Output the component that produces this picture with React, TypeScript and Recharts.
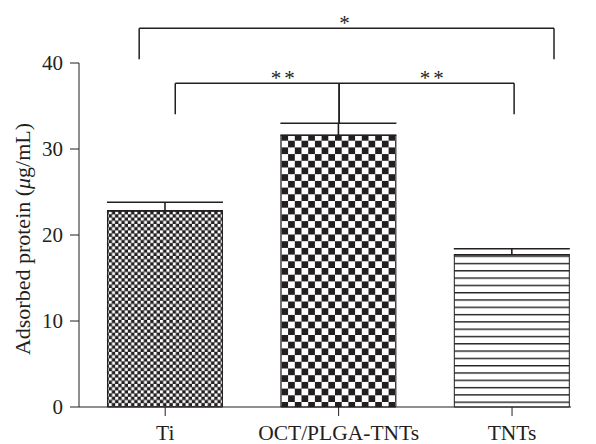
import { Bar, BarChart, Cell, ErrorBar, ReferenceDot, ReferenceLine, XAxis, YAxis } from "recharts"

const groups = ["Ti", "OCT/PLGA-TNTs", "TNTs"]
const means = [22.8, 31.6, 17.7]
const sems = [1.0, 1.4, 0.7]
const fills = ["url(#fineCheck)", "url(#bigCheck)", "url(#hStripes)"]
const yTicks = [0, 10, 20, 30, 40]

// significance brackets, in data units (x = group index)
const brackets = [
  { x1: -0.15, x2: 2.242, top: 44.05, left: 40.45, right: 40.45 },
  { x1: 0.058, x2: 1.003, top: 37.65, left: 34.05, right: 33.0 },
  { x1: 1.003, x2: 2.012, top: 37.65, left: 33.0, right: 34.05 },
]
const stars = [
  { x: 1.043, y: 44.6, text: "*" },
  { x: 0.686, y: 38.2, text: "**" },
  { x: 1.545, y: 38.2, text: "**" },
]

const data = groups.map((name, i) => ({ idx: i, name, mean: means[i], err: [0, sems[i]] }))

const ink = "#231f20"
const font = "'Liberation Serif', 'Times New Roman', serif"

function AxisTitle({ viewBox }: any) {
  const cy = viewBox.y + viewBox.height / 2 + 4
  return (
    <text
      x={22}
      y={cy}
      transform={`rotate(-90 22 ${cy})`}
      textAnchor="middle"
      dominantBaseline="central"
      fill={ink}
      fontSize={22}
      fontFamily={font}
    >
      Adsorbed protein (<tspan fontStyle="italic">μ</tspan>g/mL)
    </text>
  )
}

export default function App() {
  return (
    <div style={{ position: "absolute", left: 0, top: 0, background: "#fff" }}>
      <BarChart width={596} height={444} data={data} margin={{ top: 63, right: 25, bottom: 0, left: 0 }}>
        <defs>
          <pattern id="fineCheck" patternUnits="userSpaceOnUse" width={6.4} height={6.4}>
            <rect width={6.4} height={6.4} fill={ink} />
            <rect width={3} height={3} fill="#fff" />
            <rect x={3.2} y={3.2} width={3} height={3} fill="#fff" />
          </pattern>
          <pattern id="bigCheck" patternUnits="userSpaceOnUse" width={13.4} height={13.4}>
            <rect width={13.4} height={13.4} fill="#fff" />
            <rect width={6.7} height={6.7} fill={ink} />
            <rect x={6.7} y={6.7} width={6.7} height={6.7} fill={ink} />
          </pattern>
          <pattern id="hStripes" patternUnits="userSpaceOnUse" width={8} height={7.3}>
            <rect width={8} height={7.3} fill="#fff" />
            <rect y={0} width={8} height={1.4} fill={ink} />
          </pattern>
        </defs>
        <XAxis
          type="number"
          dataKey="idx"
          domain={[-0.497, 2.34]}
          allowDataOverflow
          ticks={[0, 1, 2]}
          tickFormatter={(v: number) => groups[v]}
          height={37}
          tickSize={9}
          tickMargin={9}
          stroke={ink}
          tick={{ fill: ink, fontSize: 21.5, fontFamily: font }}
        />
        <YAxis
          domain={[0, 40]}
          ticks={yTicks}
          width={79}
          tickSize={9}
          tickMargin={7}
          stroke={ink}
          tick={{ fill: ink, fontSize: 21, fontFamily: font }}
          label={{ content: AxisTitle }}
        />
        <Bar dataKey="mean" barSize={115} stroke={ink} strokeWidth={1} isAnimationActive={false}>
          {data.map((d, i) => (
            <Cell key={d.name} fill={fills[i]} />
          ))}
          <ErrorBar dataKey="err" width={58} stroke={ink} strokeWidth={1.6} direction="y" />
        </Bar>
        {brackets.map((b, i) => [
          <ReferenceLine key={`h${i}`} segment={[{ x: b.x1, y: b.top }, { x: b.x2, y: b.top }]} stroke={ink} strokeWidth={1.5} ifOverflow="visible" />,
          <ReferenceLine key={`l${i}`} segment={[{ x: b.x1, y: b.top }, { x: b.x1, y: b.left }]} stroke={ink} strokeWidth={1.5} ifOverflow="visible" />,
          <ReferenceLine key={`r${i}`} segment={[{ x: b.x2, y: b.top }, { x: b.x2, y: b.right }]} stroke={ink} strokeWidth={1.5} ifOverflow="visible" />,
        ])}
        {stars.map((s, i) => (
          <ReferenceDot
            key={`s${i}`}
            x={s.x}
            y={s.y}
            r={0}
            ifOverflow="visible"
            shape={(p: any) => (
              <text x={p.cx} y={p.cy} textAnchor="middle" dominantBaseline="central" fill={ink} fontSize={21} fontFamily={font} letterSpacing={3}>
                {s.text}
              </text>
            )}
          />
        ))}
      </BarChart>
    </div>
  )
}
